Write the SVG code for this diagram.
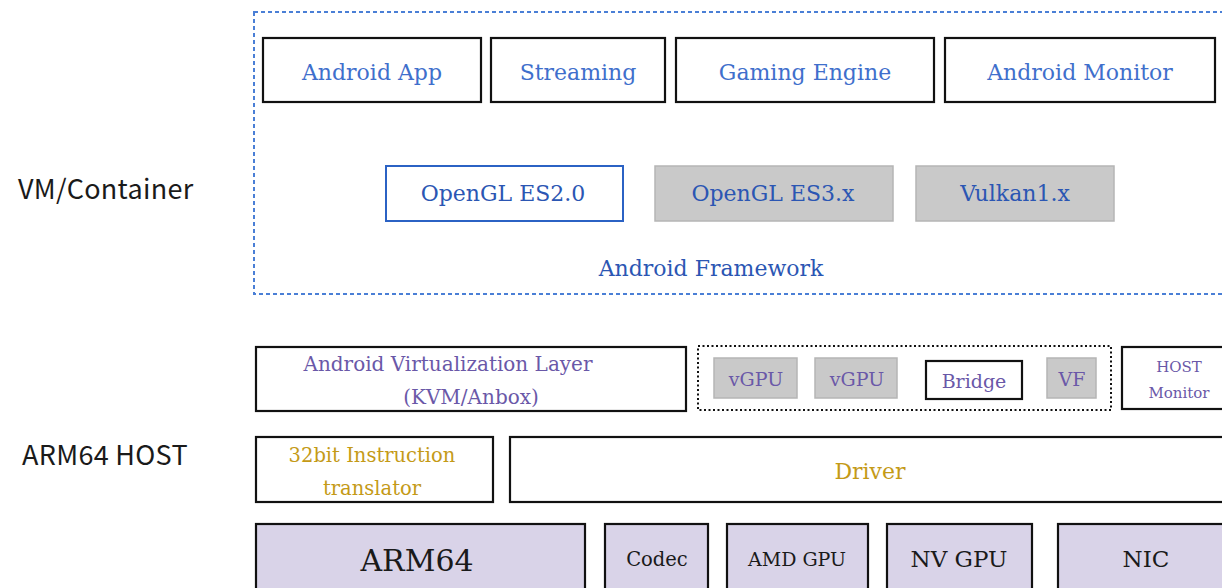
<svg xmlns="http://www.w3.org/2000/svg" width="1222" height="588" viewBox="0 0 1222 588">
<style>
  .box{fill:#fff;stroke:#111;stroke-width:2.2}
  .gray{fill:#c9c9c9;stroke:#b5b5b5;stroke-width:1.5}
  .lav{fill:#d9d3e8;stroke:#111;stroke-width:2.2}
  .t{font-family:"DejaVu Serif","Liberation Serif",serif;text-anchor:middle}
  .blue{fill:#3f6fcc}
  .dblue{fill:#2b56b3}
  .pur{fill:#6a58a8}
  .gold{fill:#c49a17}
  .dark{fill:#1a1a1a}
  .side{font-family:"Noto Sans CJK SC","Noto Sans","DejaVu Sans",sans-serif;fill:#1a1a1a;font-size:27px;letter-spacing:0.3px}
</style>
<rect width="1222" height="588" fill="#fff"/>
<g id="labels">
  <text class="side" x="18" y="199">VM/Container</text>
  <text class="side" x="22" y="465">ARM64 HOST</text>
</g>
<g id="android-framework">
  <rect x="254" y="12" width="980" height="282" fill="none" stroke="#4a7fd6" stroke-width="2" stroke-dasharray="4,3"/>
  <text class="t dblue" x="711" y="276" font-size="22">Android Framework</text>
</g>
<g id="android-app"><rect class="box" x="263" y="38" width="218" height="64"/><text class="t blue" x="372" y="80" font-size="22">Android App</text></g>
<g id="streaming"><rect class="box" x="491" y="38" width="174" height="64"/><text class="t blue" x="578" y="80" font-size="22">Streaming</text></g>
<g id="gaming-engine"><rect class="box" x="676" y="38" width="258" height="64"/><text class="t blue" x="805" y="80" font-size="22">Gaming Engine</text></g>
<g id="android-monitor"><rect class="box" x="945" y="38" width="270" height="64"/><text class="t blue" x="1080" y="80" font-size="22">Android Monitor</text></g>
<g id="opengl-es2"><rect x="386" y="166" width="237" height="55" fill="#fff" stroke="#2b62c4" stroke-width="2"/><text class="t dblue" x="503" y="201" font-size="22">OpenGL ES2.0</text></g>
<g id="opengl-es3"><rect class="gray" x="655" y="166" width="238" height="55"/><text class="t dblue" x="773" y="201" font-size="22">OpenGL ES3.x</text></g>
<g id="vulkan"><rect class="gray" x="916" y="166" width="198" height="55"/><text class="t dblue" x="1015" y="201" font-size="22">Vulkan1.x</text></g>

<g id="avl"><rect class="box" x="256" y="347" width="430" height="64"/>
  <text class="t pur" x="448" y="371" font-size="20">Android Virtualization Layer</text>
  <text class="t pur" x="471" y="404" font-size="20">(KVM/Anbox)</text></g>
<g id="vgpu-group"><rect x="698" y="346" width="413" height="64" fill="none" stroke="#111" stroke-width="2" stroke-dasharray="2,2.5"/></g>
<g id="vgpu1"><rect class="gray" x="714" y="358" width="83" height="40"/><text class="t pur" x="756" y="386" font-size="19">vGPU</text></g>
<g id="vgpu2"><rect class="gray" x="815" y="358" width="82" height="40" stroke="#999"/><text class="t pur" x="857" y="386" font-size="19">vGPU</text></g>
<g id="bridge"><rect class="box" x="926" y="361" width="96" height="38"/><text class="t pur" x="974" y="388" font-size="19">Bridge</text></g>
<g id="vf"><rect class="gray" x="1047" y="358" width="49" height="40"/><text class="t pur" x="1072" y="386" font-size="19">VF</text></g>
<g id="host-monitor"><rect class="box" x="1122" y="347" width="110" height="62"/>
  <text class="t pur" x="1179" y="372" font-size="15">HOST</text>
  <text class="t pur" x="1179" y="398" font-size="15">Monitor</text></g>

<g id="translator"><rect class="box" x="256" y="437" width="237" height="65"/>
  <text class="t gold" x="372" y="462" font-size="19.5">32bit Instruction</text>
  <text class="t gold" x="372" y="495" font-size="19.5">translator</text></g>
<g id="driver"><rect class="box" x="510" y="437" width="722" height="65"/><text class="t gold" x="870" y="479" font-size="22">Driver</text></g>

<g id="arm64"><rect class="lav" x="256" y="524" width="329" height="80"/><text class="t dark" x="417" y="571" font-size="30">ARM64</text></g>
<g id="codec"><rect class="lav" x="605" y="524" width="103" height="80"/><text class="t dark" x="657" y="566" font-size="19.5">Codec</text></g>
<g id="amd-gpu"><rect class="lav" x="727" y="524" width="141" height="80"/><text class="t dark" x="797" y="566" font-size="19">AMD GPU</text></g>
<g id="nv-gpu"><rect class="lav" x="887" y="524" width="145" height="80"/><text class="t dark" x="959" y="567" font-size="23">NV GPU</text></g>
<g id="nic"><rect class="lav" x="1058" y="524" width="180" height="80"/><text class="t dark" x="1146" y="567" font-size="23">NIC</text></g>
<g id="connectors"></g>
</svg>
